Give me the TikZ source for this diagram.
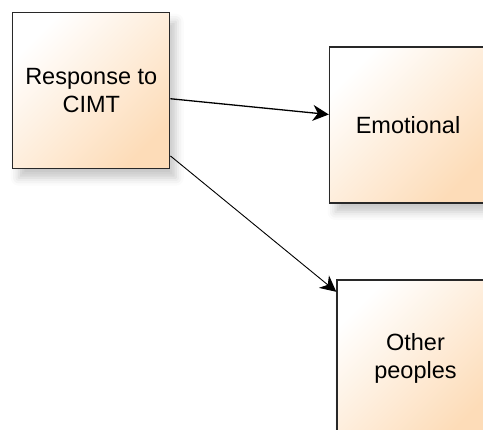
\documentclass[tikz,border=0pt]{standalone}
\usepackage{fontspec}
\setmainfont{Liberation Sans}
\usetikzlibrary{arrows.meta,shadows.blur}
\definecolor{peach}{RGB}{253,220,184}
\definecolor{edge}{RGB}{40,40,40}
\tikzset{
  box/.style={draw=edge, line width=1.4pt, minimum width=157pt, minimum height=156pt,
    inner sep=0pt, top color=white, bottom color=peach, shading angle=45,
    align=center, font=\fontsize{23.5}{28}\selectfont,
    blur shadow={shadow xshift=6pt, shadow yshift=-9pt, shadow opacity=22, shadow blur radius=8pt}},
  conn/.style={draw=black, -{Stealth[length=16pt,width=16pt,inset=5pt]}}
}
\begin{document}
\begin{tikzpicture}[x=1pt,y=-1pt]
\useasboundingbox (0,0) rectangle (483,430);
\node[box] (r) at (91.25,90.75) {Response to\\CIMT};
\node[box] (e) at (408,125) {Emotional};
\node[box] (o) at (415.5,358) {Other\\peoples};
\draw[conn, line width=1.3pt] ([yshift=-8pt]r.east) -- ([yshift=10.5pt]e.west);
\draw[conn, line width=0.9pt] ([yshift=13.5pt]r.south east) -- ([yshift=-12.5pt]o.north west);
\end{tikzpicture}
\end{document}
